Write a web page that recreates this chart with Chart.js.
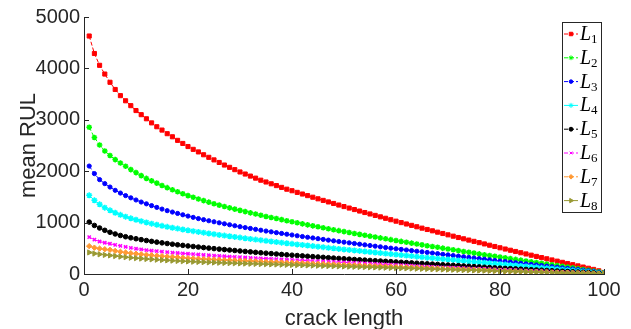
<!DOCTYPE html>
<html>
<head>
<meta charset="utf-8">
<script src="https://cdn.jsdelivr.net/npm/chart.js@4.4.1/dist/chart.umd.min.js"></script>
<style>
  html, body { margin: 0; padding: 0; background: #fff; }
  canvas { display: block; }
</style>
</head>
<body>
<canvas id="rulChart" width="631" height="329"></canvas>
<script>
// crack length (x) and mean RUL for each load case
const crackLength = [1,2,3,4,5,6,7,8,9,10,11,12,13,14,15,16,17,18,19,20,21,22,23,24,25,26,27,28,29,30,31,32,33,34,35,36,37,38,39,40,41,42,43,44,45,46,47,48,49,50,51,52,53,54,55,56,57,58,59,60,61,62,63,64,65,66,67,68,69,70,71,72,73,74,75,76,77,78,79,80,81,82,83,84,85,86,87,88,89,90,91,92,93,94,95,96,97,98,99,100];

const L1 = [4630,4290,4060,3890,3730,3590,3470,3370,3275,3180,3100,3020,2940,2865,2800,2730,2670,2600,2540,2480,2425,2375,2320,2270,2220,2170,2120,2075,2030,1985,1945,1905,1865,1825,1790,1755,1720,1685,1650,1620,1588,1556,1525,1494,1463,1432,1402,1372,1342,1312,1283,1254,1225,1196,1168,1140,1112,1084,1056,1028,1000,973,946,919,892,866,840,814,788,762,736,710,685,660,635,610,585,560,535,510,486,462,438,414,390,366,342,319,296,273,250,227,204,181,158,135,112,89,62,30];
const L2 = [2856,2655,2511,2394,2304,2226,2160,2096,2031,1973,1914,1860,1812,1768,1722,1680,1638,1600,1562,1525,1492,1460,1428,1398,1368,1340,1313,1287,1262,1238,1214,1190,1166,1143,1120,1100,1080,1058,1037,1016,996,976,956,937,918,899,880,861,843,825,807,789,771,753,736,719,702,685,668,651,634,617,600,583,567,551,535,519,503,487,471,455,439,423,407,391,375,359,344,329,314,299,284,269,254,239,224,209,194,179,164,149,134,119,104,89,74,59,44,25];
const L3 = [2100,1953,1836,1758,1692,1628,1575,1525,1482,1440,1400,1365,1330,1296,1263,1232,1205,1178,1152,1127,1102,1078,1056,1036,1016,996,977,958,939,920,903,886,869,852,836,820,804,789,774,759,744,729,715,701,687,673,659,645,632,619,606,593,580,567,554,541,528,515,503,491,479,467,455,443,431,419,407,395,383,371,359,347,335,323,311,299,287,275,263,252,241,230,219,208,197,186,175,164,153,142,131,120,109,98,86,74,62,50,37,20];
const L4 = [1530,1433,1355,1290,1238,1192,1152,1116,1084,1055,1028,1003,980,958,937,918,900,883,866,850,834,819,804,789,775,761,747,734,721,708,695,682,670,658,646,634,622,610,598,587,576,565,554,543,532,521,510,499,488,478,468,458,448,438,428,418,408,398,388,378,368,358,348,338,328,318,309,300,291,282,273,264,255,246,237,228,219,210,201,192,183,174,165,156,147,138,129,120,111,102,93,84,75,66,57,48,39,30,21,10];
const L5 = [1010,945,895,850,812,779,750,725,704,686,668,651,635,620,606,593,580,568,557,546,535,524,514,504,494,484,475,466,457,448,439,430,421,413,405,397,389,381,373,366,359,352,345,338,331,324,317,310,303,296,289,282,276,270,264,258,252,246,240,234,228,222,216,210,204,198,192,186,180,174,168,162,156,150,144,138,132,126,120,114,109,104,99,94,89,84,79,74,69,64,59,54,49,44,39,34,28,22,15,6];
const L6 = [717,667,632,608,589,567,547,529,510,491,478,466,455,444,434,425,417,409,401,394,386,379,372,365,358,351,345,339,333,327,321,315,310,305,300,295,290,285,280,275,270,265,260,255,250,245,240,235,230,225,220,215,210,205,200,195,190,185,180,175,170,165,160,155,150,145,140,135,130,126,122,118,114,110,106,102,98,94,90,86,82,78,74,70,66,62,58,54,50,46,42,38,34,30,26,22,18,13,8,3];
const L7 = [542,512,494,482,470,450,432,418,405,394,383,373,364,355,347,339,332,325,316,308,302,296,291,286,281,276,272,268,264,260,255,250,246,242,238,234,230,226,222,218,214,210,206,202,198,194,190,186,182,178,174,170,166,162,158,154,150,146,142,138,134,130,126,122,118,114,110,106,102,98,95,92,89,86,82,78,74,70,66,62,59,56,53,50,47,44,41,38,35,32,29,26,23,20,17,14,11,8,5,2];
const L8 = [419,398,383,371,361,349,338,327,317,308,300,292,285,278,272,266,260,254,249,244,239,235,231,227,223,219,215,212,209,206,203,200,197,194,191,188,185,182,179,176,173,170,167,164,161,158,155,152,149,146,143,140,137,134,131,128,125,122,119,116,113,110,107,104,101,98,95,92,89,86,83,80,77,74,71,68,65,62,59,56,53,50,47,44,41,38,35,32,29,26,23,21,19,17,15,13,11,9,6,3];

const seriesNames = ['1','2','3','4','5','6','7','8'];
const seriesData = [L1, L2, L3, L4, L5, L6, L7, L8];
const xTicks = [0, 20, 40, 60, 80, 100];
const yTicks = [0, 1000, 2000, 3000, 4000, 5000];

const colors = ['#ff0000','#00ff00','#0000ff','#00ffff','#000000','#ff00ff','#ff9933','#999933'];
const markers = ['rect','star','circle','star','circle','crossRot','rectRot','triangle'];
const radii = [2.9, 2.8, 2.1, 3.0, 2.3, 2.3, 2.7, 3.0];
const rotations = [0, 0, 0, 0, 0, 0, 0, 90];
const dashes = [[4,2],[4,2],[4,2],[],[4,2],[4,2],[4,2],[]];

const axisColor = '#262626';

const datasets = seriesData.map((vals, i) => ({
  label: 'L' + seriesNames[i],
  data: vals.map((v, j) => ({ x: crackLength[j], y: v })),
  borderColor: colors[i],
  backgroundColor: colors[i],
  borderWidth: 1,
  borderDash: dashes[i],
  pointStyle: markers[i],
  pointRadius: radii[i],
  pointRotation: rotations[i],
  pointBorderColor: colors[i],
  pointBackgroundColor: colors[i],
  pointBorderWidth: (markers[i] === 'star' || markers[i] === 'crossRot') ? 1.5 : 1,
  fill: false,
  tension: 0,
  order: 8 - i
}));

// inward tick marks like matlab
const tickMarks = {
  id: 'tickMarks',
  afterDatasetsDraw(chart) {
    const { ctx, scales: { x, y }, chartArea } = chart;
    ctx.save();
    ctx.strokeStyle = axisColor;
    ctx.lineWidth = 1;
    ctx.beginPath();
    yTicks.forEach(t => {
      const py = Math.round(y.getPixelForValue(t)) + 0.5;
      ctx.moveTo(chartArea.left, py);
      ctx.lineTo(chartArea.left + 5, py);
    });
    xTicks.forEach(t => {
      const px = Math.round(x.getPixelForValue(t)) + 0.5;
      ctx.moveTo(px, chartArea.bottom);
      ctx.lineTo(px, chartArea.bottom - 5);
    });
    ctx.stroke();
    ctx.restore();
  }
};

// boxed legend inside the axes, top right
const boxLegend = {
  id: 'boxLegend',
  afterDraw(chart) {
    const { ctx } = chart;
    const left = 562, top = 22, w = 39, h = 190;
    ctx.save();
    ctx.fillStyle = '#fff';
    ctx.fillRect(left, top, w, h);
    ctx.strokeStyle = axisColor;
    ctx.lineWidth = 1;
    ctx.strokeRect(left + 0.5, top + 0.5, w, h);
    seriesData.forEach((_, i) => {
      const cy = 34 + i * 23.8;
      ctx.strokeStyle = colors[i];
      ctx.lineWidth = 1;
      ctx.setLineDash(dashes[i]);
      ctx.beginPath();
      ctx.moveTo(564, cy);
      ctx.lineTo(578, cy);
      ctx.stroke();
      ctx.setLineDash([]);
      ctx.fillStyle = colors[i];
      Chart.helpers.drawPoint(ctx, {
        pointStyle: markers[i],
        radius: radii[i] * 0.85,
        rotation: rotations[i],
        borderWidth: datasets[i].pointBorderWidth
      }, 571, cy);
      ctx.fillStyle = '#000';
      ctx.textBaseline = 'alphabetic';
      ctx.font = 'italic 20px "Liberation Serif"';
      ctx.fillText('L', 580, cy + 6);
      ctx.font = '13px "Liberation Serif"';
      ctx.fillText(seriesNames[i], 591, cy + 9);
    });
    ctx.restore();
  }
};

Chart.defaults.font.family = '"Liberation Sans", Arial, sans-serif';
Chart.defaults.color = axisColor;

new Chart('rulChart', {
  type: 'line',
  data: { datasets: datasets },
  options: {
    responsive: false,
    animation: false,
    devicePixelRatio: 1,
    layout: { padding: { left: 0, right: 27, top: 17, bottom: 0 } },
    plugins: {
      legend: { display: false },
      tooltip: { enabled: false }
    },
    scales: {
      x: {
        type: 'linear',
        min: 0,
        max: 100,
        afterBuildTicks(scale) { scale.ticks = xTicks.map(v => ({ value: v })); },
        afterFit(scale) { scale.height = 55; },
        grid: { display: false, drawTicks: false, tickLength: 0 },
        border: { display: true, color: axisColor, width: 1 },
        ticks: { font: { size: 20 }, color: axisColor, padding: 4, maxRotation: 0, callback: v => String(v) },
        title: { display: true, text: 'crack length', font: { size: 22 }, color: axisColor, padding: { top: 0, bottom: -3 } }
      },
      y: {
        type: 'linear',
        min: 0,
        max: 5000,
        afterBuildTicks(scale) { scale.ticks = yTicks.map(v => ({ value: v })); },
        afterFit(scale) { scale.width = 84; },
        grid: { display: false, drawTicks: false, tickLength: 0 },
        border: { display: true, color: axisColor, width: 1 },
        ticks: { font: { size: 20 }, color: axisColor, padding: 4, callback: v => String(v) },
        title: { display: true, text: 'mean RUL', font: { size: 22 }, color: axisColor, padding: { top: 16, bottom: 0 } }
      }
    }
  },
  plugins: [tickMarks, boxLegend]
});
</script>
</body>
</html>
